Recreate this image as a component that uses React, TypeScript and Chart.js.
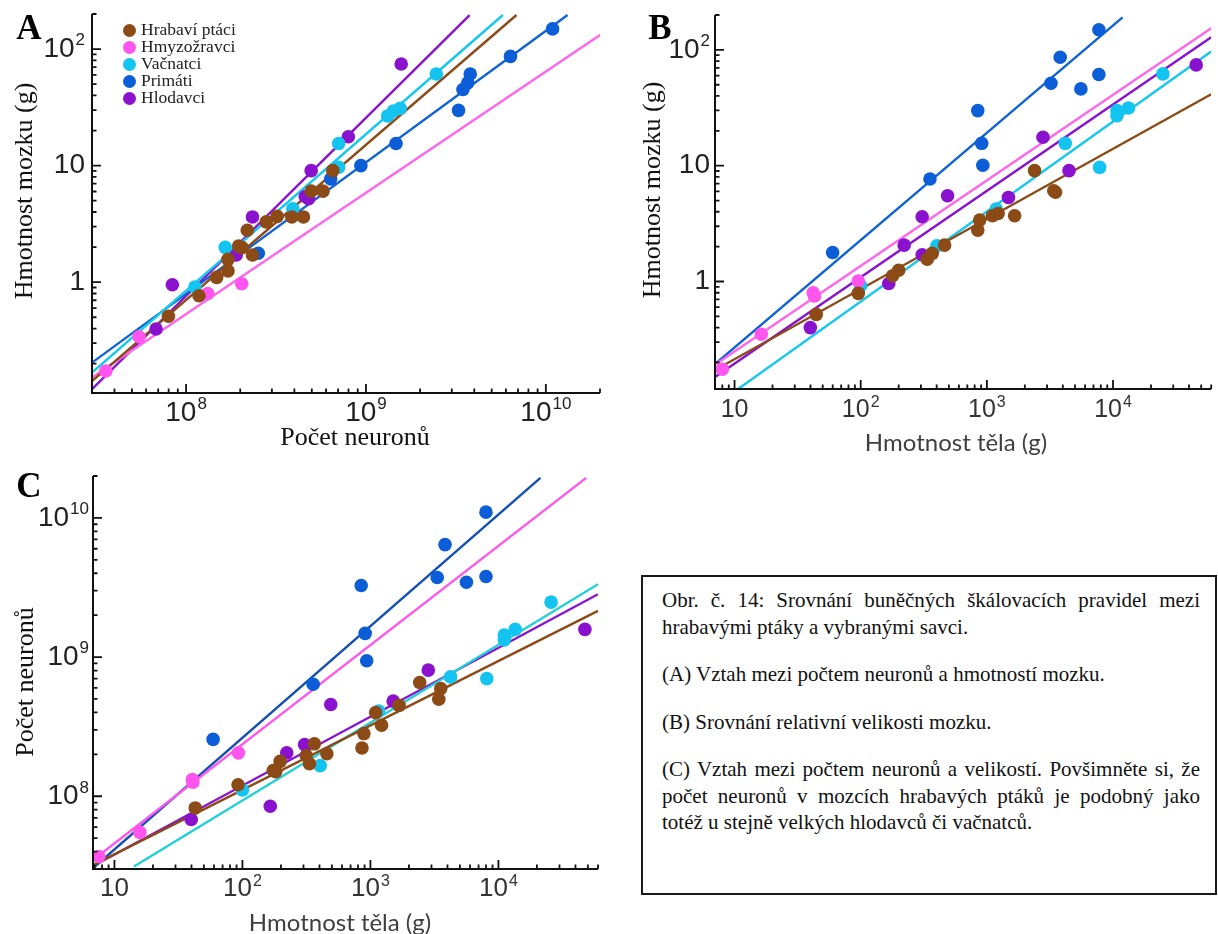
import React, { useEffect, useRef } from "react";
import { Chart, registerables } from "chart.js";

Chart.register(...registerables);

type Pt = [number, number];

// ---------- groups ----------
const groupNames = ["Hrabaví ptáci", "Hmyzožravci", "Vačnatci", "Primáti", "Hlodavci"];
const groupColors = ["#8C4B16", "#FF55EE", "#14C4F0", "#0B5ED7", "#8A12CF"];
const lineColorsAB = ["#8C4B16", "#FF66EE", "#14C8EE", "#0E62D4", "#8A12CF"];
const lineColorsC = ["#8C4B16", "#FF55EE", "#1ED0D8", "#1450B4", "#8A12CF"];

// ---------- Panel A: brain mass (g) vs number of neurons ----------
const aBirds: Pt[] = [[7.98e7, 0.51], [1.18e8, 0.765], [1.48e8, 1.1], [1.71e8, 1.25], [1.71e8, 1.57], [1.96e8, 2.04], [2.05e8, 1.98], [2.34e8, 1.71], [2.19e8, 2.79], [2.79e8, 3.29], [3.21e8, 3.67], [3.87e8, 3.63], [4.49e8, 3.63], [4.96e8, 6.04], [5.77e8, 6.04], [6.54e8, 9.06]];
const aInsect: Pt[] = [[3.58e7, 0.173], [5.48e7, 0.34], [1.32e8, 0.8], [2.04e8, 0.97]];
const aMars: Pt[] = [[1.12e8, 0.91], [1.65e8, 1.99], [3.92e8, 4.27], [7.05e8, 15.5], [7.05e8, 9.68], [1.32e9, 26.7], [1.42e9, 29.4], [1.55e9, 31.0], [2.46e9, 61.2]];
const aPrim: Pt[] = [[2.52e8, 1.77], [6.37e8, 7.7], [9.37e8, 10], [1.47e9, 15.5], [3.27e9, 29.8], [3.46e9, 45], [3.68e9, 51.3], [3.8e9, 61.2], [6.36e9, 86.6], [1.09e10, 149]];
const aRod: Pt[] = [[6.81e7, 0.397], [8.39e7, 0.95], [1.9e8, 1.71], [2.34e8, 3.63], [4.6e8, 5.44], [4.8e8, 5.2], [4.96e8, 9.06], [7.98e8, 17.7], [1.57e9, 74.5]];
const aBirdsFit: Pt[] = [[3e7, 0.142], [6.87e9, 196]];
const aInsectFit: Pt[] = [[3e7, 0.152], [2.01e10, 132.5]];
const aMarsFit: Pt[] = [[3e7, 0.168], [5.77e9, 196]];
const aPrimFit: Pt[] = [[3e7, 0.204], [1.32e10, 196]];
const aRodFit: Pt[] = [[3e7, 0.121], [3.77e9, 196]];

// ---------- Panel B: brain mass (g) vs body mass (g) ----------
const bBirds: Pt[] = [[44.4, 0.52], [95.7, 0.79], [179, 1.12], [200, 1.25], [337, 1.56], [369, 1.75], [462, 2.06], [847, 2.78], [877, 3.39], [1106, 3.7], [1228, 3.87], [1660, 3.7], [2388, 9.06], [3390, 6.08], [3500, 5.9]];
const bInsect: Pt[] = [[8.0, 0.175], [16.3, 0.35], [42, 0.8], [43, 0.75], [95.7, 1.01]];
const bMars: Pt[] = [[100, 0.92], [401, 2.03], [1186, 4.22], [4180, 15.6], [7830, 9.68], [10740, 29.9], [10740, 27], [13250, 31.5], [24840, 62]];
const bPrim: Pt[] = [[59.9, 1.78], [354, 7.67], [847, 29.9], [910, 15.6], [929, 10.1], [3223, 51.5], [3812, 86.4], [5560, 46], [7723, 149], [7723, 61.2]];
const bRod: Pt[] = [[39.9, 0.4], [167, 0.96], [221, 2.06], [307, 3.62], [307, 1.7], [488, 5.5], [1483, 5.32], [2785, 17.6], [4478, 9.06], [45600, 74.2]];
const bBirdsFit: Pt[] = [[7, 0.172], [6e4, 41.4]];
const bInsectFit: Pt[] = [[7, 0.191], [6e4, 154]];
const bMarsFit: Pt[] = [[7, 0.085], [6e4, 96.8]];
const bPrimFit: Pt[] = [[7, 0.194], [11900, 191]];
const bRodFit: Pt[] = [[7, 0.15], [6e4, 128.5]];

// ---------- Panel C: number of neurons vs body mass (g) ----------
const cBirds: Pt[] = [[42.8, 8.24e7], [92.5, 1.21e8], [174, 1.53e8], [182, 1.5e8], [197, 1.78e8], [315, 1.96e8], [334, 1.71e8], [365, 2.38e8], [457, 2.02e8], [859, 2.22e8], [889, 2.82e8], [1099, 3.99e8], [1222, 3.24e8], [1675, 4.5e8], [2427, 6.56e8], [3421, 4.98e8], [3545, 5.94e8]];
const cInsect: Pt[] = [[7.55, 3.69e7], [15.8, 5.5e7], [40.6, 1.32e8], [41, 1.26e8], [93.1, 2.05e8]];
const cMars: Pt[] = [[99.8, 1.11e8], [405, 1.66e8], [1162, 4.1e8], [4230, 7.2e8], [8110, 7.0e8], [11120, 1.44e9], [11120, 1.33e9], [13520, 1.58e9], [25800, 2.48e9]];
const cPrim: Pt[] = [[59, 2.56e8], [357, 6.38e8], [847, 3.27e9], [910, 1.48e9], [935, 9.4e8], [3327, 3.73e9], [3828, 6.43e9], [5626, 3.45e9], [7995, 1.1e10], [7995, 3.79e9]];
const cRod: Pt[] = [[39.8, 6.8e7], [165, 8.47e7], [222, 2.05e8], [306, 2.35e8], [490, 4.56e8], [1507, 4.82e8], [2833, 8.05e8], [47400, 1.58e9]];
const cBirdsFit: Pt[] = [[6.8, 3.2e7], [6e4, 2.15e9]];
const cInsectFit: Pt[] = [[6.8, 3.48e7], [48500, 1.94e10]];
const cMarsFit: Pt[] = [[14.2, 3.13e7], [6e4, 3.34e9]];
const cPrimFit: Pt[] = [[6.8, 3.04e7], [21300, 1.94e10]];
const cRodFit: Pt[] = [[6.8, 3.15e7], [6e4, 2.83e9]];

// ---------- tick label exponents ----------
const aXExps = [8, 9, 10];
const aYExps = [0, 1, 2];
const bXExps = [1, 2, 3, 4];
const bYExps = [0, 1, 2];
const cXExps = [1, 2, 3, 4];
const cYExps = [8, 9, 10];

const SANS = '"Liberation Sans", Arial, sans-serif';
const SERIF = '"Liberation Serif", "Times New Roman", serif';

function drawPow(ctx: CanvasRenderingContext2D, e: number, x: number, y: number, size: number, align: string, color: string) {
  const base = e === 0 ? "1" : "10";
  const exp = e >= 2 ? String(e) : "";
  ctx.fillStyle = color;
  ctx.textAlign = "left";
  ctx.textBaseline = "middle";
  ctx.font = `${size}px ${SANS}`;
  const wb = ctx.measureText(base).width;
  const es = Math.round(size * 0.62);
  ctx.font = `${es}px ${SANS}`;
  const we = exp ? ctx.measureText(exp).width + 1 : 0;
  const total = wb + we;
  const x0 = align === "center" ? x - total / 2 : x - total;
  ctx.font = `${size}px ${SANS}`;
  ctx.fillText(base, x0, y);
  if (exp) {
    ctx.font = `${es}px ${SANS}`;
    ctx.fillText(exp, x0 + wb + 1, y - size * 0.3);
  }
}

const axesPlugin = {
  id: "logAxes",
  afterDatasetsDraw(chart: any, _args: any, opts: any) {
    const { ctx, chartArea: ca } = chart;
    const xs = chart.scales.x;
    const ys = chart.scales.y;
    ctx.save();
    ctx.strokeStyle = "#111";
    ctx.lineWidth = 2;
    ctx.beginPath();
    ctx.moveTo(ca.left, ca.top);
    ctx.lineTo(ca.left, ca.bottom);
    ctx.lineTo(ca.right, ca.bottom);
    ctx.stroke();
    const eachTick = (min: number, max: number, fn: (v: number, major: boolean) => void) => {
      for (let k = Math.floor(Math.log10(min)); k <= Math.ceil(Math.log10(max)); k++) {
        for (let m = 1; m <= 9; m++) {
          const v = m * Math.pow(10, k);
          if (v < min * 0.999 || v > max * 1.001) continue;
          fn(v, m === 1);
        }
      }
    };
    ctx.lineWidth = 1.8;
    ctx.beginPath();
    eachTick(xs.min, xs.max, (v, major) => {
      const p = xs.getPixelForValue(v);
      ctx.moveTo(p, ca.bottom);
      ctx.lineTo(p, ca.bottom - (major ? 9 : 4.5));
    });
    eachTick(ys.min, ys.max, (v, major) => {
      const p = ys.getPixelForValue(v);
      ctx.moveTo(ca.left, p);
      ctx.lineTo(ca.left + (major ? 9 : 4.5), p);
    });
    ctx.stroke();
    (opts.xExps || []).forEach((e: number) => {
      const p = xs.getPixelForValue(Math.pow(10, e));
      drawPow(ctx, e, p, ca.bottom + opts.xOff, opts.xFont, "center", opts.xColor);
    });
    (opts.yExps || []).forEach((e: number) => {
      const p = ys.getPixelForValue(Math.pow(10, e));
      drawPow(ctx, e, ca.left - opts.yGap, p, opts.yFont, "right", opts.yColor);
    });
    ctx.restore();
  },
};

type PanelProps = {
  left: number; top: number; width: number; height: number;
  pad: { left: number; top: number; right: number; bottom: number };
  xr: [number, number]; yr: [number, number];
  points: Pt[][]; fits: Pt[][]; lineColors: string[];
  axisOpts: any;
};

function Panel(p: PanelProps) {
  const ref = useRef<HTMLCanvasElement>(null);
  useEffect(() => {
    if (!ref.current) return;
    const datasets: any[] = [];
    p.points.forEach((pts, i) => {
      datasets.push({
        type: "scatter",
        label: groupNames[i],
        data: pts.map(([x, y]) => ({ x, y })),
        backgroundColor: groupColors[i],
        borderWidth: 0,
        pointRadius: 6.8,
        pointHoverRadius: 6.8,
        order: 0,
        clip: false,
      });
    });
    p.fits.forEach((f, i) => {
      datasets.push({
        type: "line",
        label: groupNames[i] + " fit",
        data: f.map(([x, y]) => ({ x, y })),
        borderColor: p.lineColors[i],
        backgroundColor: p.lineColors[i],
        borderWidth: 2.4,
        pointRadius: 0,
        showLine: true,
        fill: false,
        tension: 0,
        order: 1,
        clip: 0,
      });
    });
    const chart = new Chart(ref.current, {
      type: "scatter",
      data: { datasets },
      options: {
        responsive: false,
        animation: false,
        devicePixelRatio: 1,
        events: [],
        layout: { padding: p.pad },
        plugins: { legend: { display: false }, tooltip: { enabled: false }, logAxes: p.axisOpts } as any,
        scales: {
          x: { type: "logarithmic", display: false, min: p.xr[0], max: p.xr[1] },
          y: { type: "logarithmic", display: false, min: p.yr[0], max: p.yr[1] },
        },
      },
      plugins: [axesPlugin as any],
    } as any);
    return () => chart.destroy();
  }, []);
  return (
    <canvas
      ref={ref}
      width={p.width}
      height={p.height}
      style={{ position: "absolute", left: p.left, top: p.top, width: p.width, height: p.height }}
    />
  );
}

const centered = (x: number, y: number, extra: any = {}): any => ({
  position: "absolute",
  left: x,
  top: y,
  transform: "translate(-50%, -50%)" + (extra.rot ? " rotate(-90deg)" : ""),
  whiteSpace: "nowrap",
  lineHeight: 1,
  ...extra.style,
});

export default function App() {
  const serifTitle = { fontFamily: SERIF, fontSize: 26, color: "#111" };
  const sansTitle = { fontFamily: 'Lato, "Open Sans", sans-serif', fontSize: 24, color: "#404040" };
  const letter = { fontFamily: SERIF, fontSize: 35, fontWeight: "bold", color: "#000" };
  return (
    <div style={{ position: "absolute", left: 0, top: 0, width: 1218, height: 934, background: "#fff", overflow: "hidden" }}>
      <Panel
        left={0} top={0} width={610} height={455}
        pad={{ left: 92, top: 14, right: 10, bottom: 62 }}
        xr={[3e7, 2e10]} yr={[0.112, 200]}
        points={[aBirds, aInsect, aMars, aPrim, aRod]}
        fits={[aBirdsFit, aInsectFit, aMarsFit, aPrimFit, aRodFit]}
        lineColors={lineColorsAB}
        axisOpts={{ xExps: aXExps, yExps: aYExps, xFont: 28, yFont: 28, xColor: "#222", yColor: "#222", xOff: 20, yGap: 7 }}
      />
      <Panel
        left={610} top={0} width={608} height={455}
        pad={{ left: 105, top: 15, right: 2, bottom: 66 }}
        xr={[7, 6e4]} yr={[0.118, 200]}
        points={[bBirds, bInsect, bMars, bPrim, bRod]}
        fits={[bBirdsFit, bInsectFit, bMarsFit, bPrimFit, bRodFit]}
        lineColors={lineColorsAB}
        axisOpts={{ xExps: bXExps, yExps: bYExps, xFont: 25, yFont: 28, xColor: "#333", yColor: "#222", xOff: 21, yGap: 5 }}
      />
      <Panel
        left={0} top={460} width={610} height={474}
        pad={{ left: 93, top: 16, right: 12, bottom: 65 }}
        xr={[6.8, 6e4]} yr={[3e7, 2e10]}
        points={[cBirds, cInsect, cMars, cPrim, cRod]}
        fits={[cBirdsFit, cInsectFit, cMarsFit, cPrimFit, cRodFit]}
        lineColors={lineColorsC}
        axisOpts={{ xExps: cXExps, yExps: cYExps, xFont: 26, yFont: 28, xColor: "#333", yColor: "#222", xOff: 20, yGap: 4 }}
      />

      {/* panel letters */}
      <div style={centered(29, 27, { style: letter })}>A</div>
      <div style={centered(660, 27, { style: letter })}>B</div>
      <div style={centered(29, 485, { style: letter })}>C</div>

      {/* axis titles */}
      <div style={centered(24, 191, { rot: true, style: serifTitle })}>Hmotnost mozku (g)</div>
      <div style={centered(355, 437, { style: serifTitle })}>Počet neuronů</div>
      <div style={centered(652, 190, { rot: true, style: serifTitle })}>Hmotnost mozku (g)</div>
      <div style={centered(956, 442, { style: sansTitle })}>Hmotnost těla (g)</div>
      <div style={centered(25, 682, { rot: true, style: serifTitle })}>Počet neuronů</div>
      <div style={centered(340, 922, { style: sansTitle })}>Hmotnost těla (g)</div>

      {/* legend (panel A) */}
      {groupNames.map((name, i) => (
        <React.Fragment key={name}>
          <div style={{ position: "absolute", left: 129.3 - 6.5, top: 30 + 17 * i - 6.5, width: 13, height: 13, borderRadius: "50%", background: groupColors[i] }} />
          <div style={{ position: "absolute", left: 141, top: 30 + 17 * i, transform: "translateY(-50%)", fontFamily: SERIF, fontSize: 17.5, lineHeight: 1, color: "#222", whiteSpace: "nowrap" }}>{name}</div>
        </React.Fragment>
      ))}

      {/* caption box */}
      <div style={{ position: "absolute", left: 641, top: 575, width: 576, height: 320, boxSizing: "border-box", border: "2px solid #1a1a1a", padding: "10px 15px 0 19px", fontFamily: SERIF, fontSize: 21, lineHeight: "26.5px", color: "#111", textAlign: "justify" }}>
        <p style={{ margin: "0 0 21px 0" }}>Obr. č. 14: Srovnání buněčných škálovacích pravidel mezi hrabavými ptáky a vybranými savci.</p>
        <p style={{ margin: "0 0 21px 0" }}>(A) Vztah mezi počtem neuronů a hmotností mozku.</p>
        <p style={{ margin: "0 0 21px 0" }}>(B) Srovnání relativní velikosti mozku.</p>
        <p style={{ margin: 0 }}>(C) Vztah mezi počtem neuronů a velikostí. Povšimněte si, že počet neuronů v{"\u00a0"}mozcích hrabavých ptáků je podobný jako totéž u stejně velkých hlodavců či vačnatců.</p>
      </div>
    </div>
  );
}
